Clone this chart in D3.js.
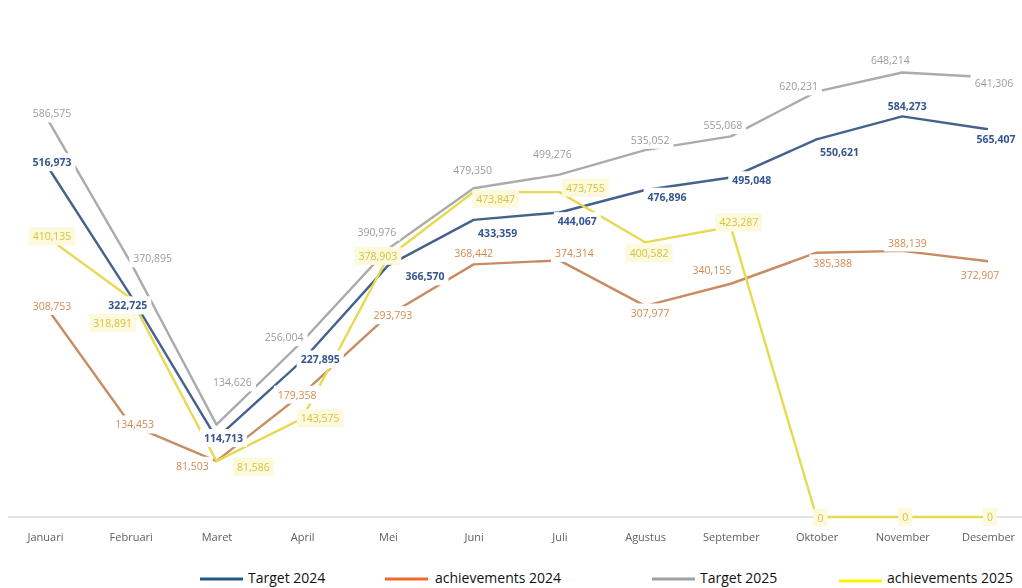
<!DOCTYPE html>
<html>
<head>
<meta charset="utf-8">
<script src="https://cdn.jsdelivr.net/npm/d3@7"></script>
<style>
  body { margin: 0; background: #fff; }
  svg { display: block; }
</style>
</head>
<body>
<div id="chart"></div>
<script>
const canvas = { w: 1022, h: 588 };

const months = ["Januari", "Februari", "Maret", "April", "Mei", "Juni", "Juli",
  "Agustus", "September", "Oktober", "November", "Desember"];

const target2024 = [516973, 322725, 114713, 227895, 366570, 433359, 444067, 476896, 495048, 550621, 584273, 565407];
const achievements2024 = [308753, 134453, 81503, 179358, 293793, 368442, 374314, 307977, 340155, 385388, 388139, 372907];
const target2025 = [586575, 370895, 134626, 256004, 390976, 479350, 499276, 535052, 555068, 620231, 648214, 641306];
const achievements2025 = [410135, 318891, 81586, 143575, 378903, 473847, 473755, 400582, 423287, 0, 0, 0];

// where each data label sits relative to its point (manual placement, like the original)
const nudgeT24 = [[7,0],[-3,10],[7,0],[18,-1],[37,11],[24,13],[18,9],[22,7],[21,3],[23,13],[5,-10],[8,10]];
const nudgeA24 = [[7,1],[4,0],[-24,5],[-5,1],[5,0],[0,-11],[15,-7],[5,7],[-19,-13],[16,11],[5,-8],[-8,14]];
const nudgeT25 = [[7,-1],[22,-4],[16,-42],[-18,-4],[-11,-17],[-1,-18],[-7,-20],[5,-10],[-8,-11],[-18,-5],[-12,-12],[6,6]];
const nudgeA25 = [[7,1],[-18,25],[37,6],[18,0],[-10,-1],[22,7],[26,-4],[4,11],[8,-4],[4,1],[3,0],[2,0]];

const series = [
  { name: "Target 2024", values: target2024, nudge: nudgeT24, line: "#44628f", text: "#36558f", weight: 700, bg: "#ffffff", legend: "#1f5a87" },
  { name: "achievements 2024", values: achievements2024, nudge: nudgeA24, line: "#c98c62", text: "#d48a52", weight: 400, bg: "#ffffff", legend: "#ec6a2b" },
  { name: "Target 2025", values: target2025, nudge: nudgeT25, line: "#ababab", text: "#9c9c9c", weight: 400, bg: "#ffffff", legend: "#a0a0a0" },
  { name: "achievements 2025", values: achievements2025, nudge: nudgeA25, line: "#e6da52", text: "#d6c43a", weight: 400, bg: "#fcf9dc", legend: "#fff000" }
];

const svg = d3.select("#chart")
  .append("svg")
  .attr("width", canvas.w)
  .attr("height", canvas.h)
  .attr("viewBox", `0 0 ${canvas.w} ${canvas.h}`);

const x = d3.scalePoint()
  .domain(months)
  .range([45, 988]);

const y = d3.scaleLinear()
  .domain([0, 700000])
  .range([517, 37]);

svg.append("filter").attr("id", "soft")
  .append("feGaussianBlur").attr("stdDeviation", 0.7);

const plot = svg.append("g").attr("filter", "url(#soft)");

// baseline
plot.append("line")
  .attr("x1", 8).attr("x2", canvas.w)
  .attr("y1", y(0)).attr("y2", y(0))
  .attr("stroke", "#d9d9d9")
  .attr("stroke-width", 1.5);

// month labels
const xAxis = d3.axisBottom(x).tickSize(0).tickPadding(16);
const axisG = plot.append("g")
  .attr("transform", `translate(0,${y(0)})`)
  .call(xAxis);
axisG.select(".domain").remove();
axisG.selectAll("text")
  .attr("font-family", "Open Sans, sans-serif")
  .attr("font-size", 11)
  .attr("fill", "#606060");

const line = d3.line()
  .x((d, i) => x(months[i]))
  .y(d => y(d));

plot.selectAll("path.series")
  .data(series)
  .enter()
  .append("path")
  .attr("class", "series")
  .attr("d", d => line(d.values))
  .attr("fill", "none")
  .attr("stroke", d => d.line)
  .attr("stroke-width", 2.4)
  .attr("stroke-linejoin", "round");

// data labels with a background box that breaks the lines
const fmt = d3.format(",");
const labels = plot.selectAll("g.labels")
  .data(series)
  .enter()
  .append("g")
  .attr("class", "labels");

labels.each(function (s) {
  const grp = d3.select(this);
  s.values.forEach((v, i) => {
    const cx = x(months[i]) + s.nudge[i][0];
    const cy = y(v) + s.nudge[i][1];
    const lg = grp.append("g").attr("transform", `translate(${cx},${cy})`);
    const rect = lg.append("rect");
    const t = lg.append("text")
      .attr("text-anchor", "middle")
      .attr("dy", "0.35em")
      .attr("font-family", "Open Sans, sans-serif")
      .attr("font-size", 10.5)
      .attr("font-weight", s.weight)
      .attr("fill", s.text)
      .text(fmt(v));
    const bb = t.node().getBBox();
    rect.attr("x", bb.x - 4).attr("y", bb.y - 2)
      .attr("width", bb.width + 8).attr("height", bb.height + 4)
      .attr("fill", s.bg);
  });
});

// legend
const legendX = [200, 385, 652, 839];
const legend = svg.selectAll("g.legend")
  .data(series)
  .enter()
  .append("g")
  .attr("class", "legend")
  .attr("transform", (d, i) => `translate(${legendX[i]},579)`);

legend.append("line")
  .attr("x1", 0).attr("x2", 43)
  .attr("y1", (d, i) => i === 3 ? 2 : 0).attr("y2", (d, i) => i === 3 ? 2 : 0)
  .attr("stroke", d => d.legend)
  .attr("stroke-width", 3);

legend.append("text")
  .attr("x", (d, i) => i === 1 ? 50 : 48)
  .attr("y", 4)
  .attr("font-family", "Open Sans, sans-serif")
  .attr("font-size", 14)
  .attr("fill", "#111")
  .text(d => d.name);
</script>
</body>
</html>
